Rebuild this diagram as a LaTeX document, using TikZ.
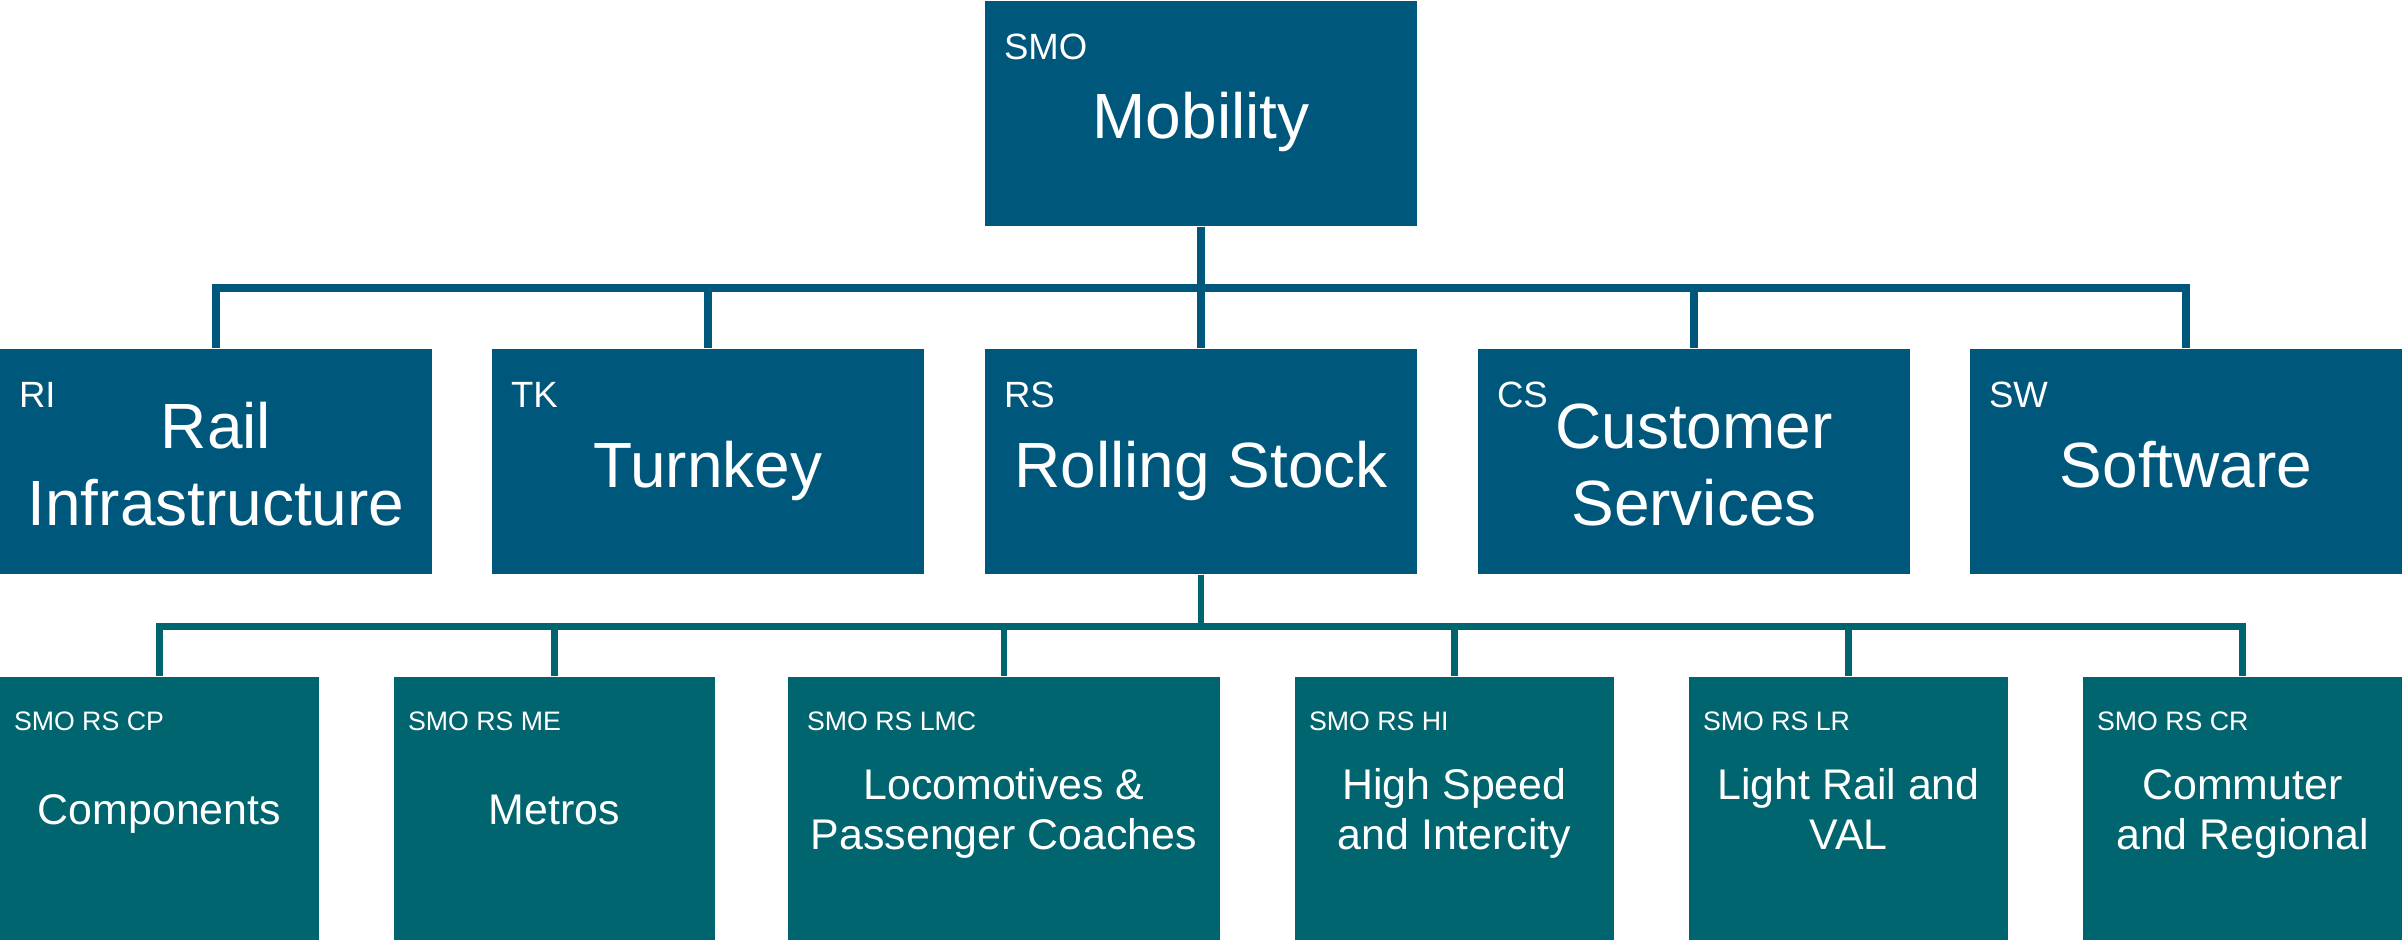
\documentclass[tikz,border=0pt]{standalone}
\usepackage{fontspec}
\setmainfont{Liberation Sans}
\usepackage{xcolor}
\definecolor{MobilityBlue}{RGB}{0,87,124}
\definecolor{StockTeal}{RGB}{0,101,111}
\usepackage{tikz}
\usetikzlibrary{positioning}

\tikzset{
	unitbox/.style={rectangle, fill=MobilityBlue, text=white, inner sep=0pt,
		minimum width=4.32cm, minimum height=2.25cm, align=center,
		text height=14.5pt, text depth=0pt,
		font=\fontsize{18.2}{21.9}\selectfont},
	unitbox2/.style={unitbox, text height=36.4pt},
	linebox/.style={rectangle, fill=StockTeal, text=white, inner sep=0pt,
		minimum height=2.63cm, align=center,
		text height=9.2pt, text depth=0pt,
		font=\fontsize{12.2}{14.3}\selectfont},
	linebox2/.style={linebox, text height=23.5pt},
	unitcode/.style={text=white, inner sep=0pt, anchor=base west,
		font=\fontsize{10.4}{12}\selectfont},
	linecode/.style={text=white, inner sep=0pt, anchor=base west,
		font=\fontsize{7.6}{9}\selectfont},
	unitlink/.style={draw=MobilityBlue, line width=2.3pt},
	linelink/.style={draw=StockTeal, line width=1.8pt}
}

\begin{document}
\begin{tikzpicture}
	\useasboundingbox (0,0) rectangle (24.05,-9.40);
	% top level
	\node[unitbox] (smo) at (12.01,-1.135) {Mobility};
	% business units
	\node[unitbox2] (ri) at (2.16,-4.615) {Rail\\Infrastructure};
	\node[unitbox] (tk) at (7.08,-4.615) {Turnkey};
	\node[unitbox] (rs) at (12.01,-4.615) {Rolling Stock};
	\node[unitbox2] (cs) at (16.94,-4.615) {Customer\\Services};
	\node[unitbox] (sw) at (21.86,-4.615) {Software};
	% rolling stock lines
	\node[linebox, minimum width=3.19cm] (cp) at (1.595,-8.085) {Components};
	\node[linebox, minimum width=3.21cm] (me) at (5.545,-8.085) {Metros};
	\node[linebox2, minimum width=4.32cm] (lmc) at (10.04,-8.085) {Locomotives \&\\Passenger Coaches};
	\node[linebox2, minimum width=3.19cm] (hi) at (14.545,-8.085) {High Speed\\and Intercity};
	\node[linebox2, minimum width=3.19cm] (lr) at (18.485,-8.085) {Light Rail and\\VAL};
	\node[linebox2, minimum width=3.19cm] (cr) at (22.425,-8.085) {Commuter\\and Regional};
	% codes
	\node[unitcode] (smo-code) at ([xshift=0.19cm, yshift=-0.59cm]smo.north west) {SMO};
	\node[unitcode] (ri-code) at ([xshift=0.19cm, yshift=-0.59cm]ri.north west) {RI};
	\node[unitcode] (tk-code) at ([xshift=0.19cm, yshift=-0.59cm]tk.north west) {TK};
	\node[unitcode] (rs-code) at ([xshift=0.19cm, yshift=-0.59cm]rs.north west) {RS};
	\node[unitcode] (cs-code) at ([xshift=0.19cm, yshift=-0.59cm]cs.north west) {CS};
	\node[unitcode] (sw-code) at ([xshift=0.19cm, yshift=-0.59cm]sw.north west) {SW};
	\node[linecode] (cp-code) at ([xshift=0.14cm, yshift=-0.54cm]cp.north west) {SMO RS CP};
	\node[linecode] (me-code) at ([xshift=0.14cm, yshift=-0.54cm]me.north west) {SMO RS ME};
	\node[linecode] (lmc-code) at ([xshift=0.19cm, yshift=-0.54cm]lmc.north west) {SMO RS LMC};
	\node[linecode] (hi-code) at ([xshift=0.14cm, yshift=-0.54cm]hi.north west) {SMO RS HI};
	\node[linecode] (lr-code) at ([xshift=0.14cm, yshift=-0.54cm]lr.north west) {SMO RS LR};
	\node[linecode] (cr-code) at ([xshift=0.14cm, yshift=-0.54cm]cr.north west) {SMO RS CR};
	% buses
	\coordinate (unitbus) at (12.01,-2.88);
	\coordinate (linebus) at (12.01,-6.265);
	\foreach \unit in {ri,tk,rs,cs,sw}
		\draw[unitlink] (smo.south) -- (unitbus) -| (\unit.north);
	\foreach \line in {cp,me,lmc,hi,lr,cr}
		\draw[linelink] (rs.south) -- (linebus) -| (\line.north);
\end{tikzpicture}
\end{document}
